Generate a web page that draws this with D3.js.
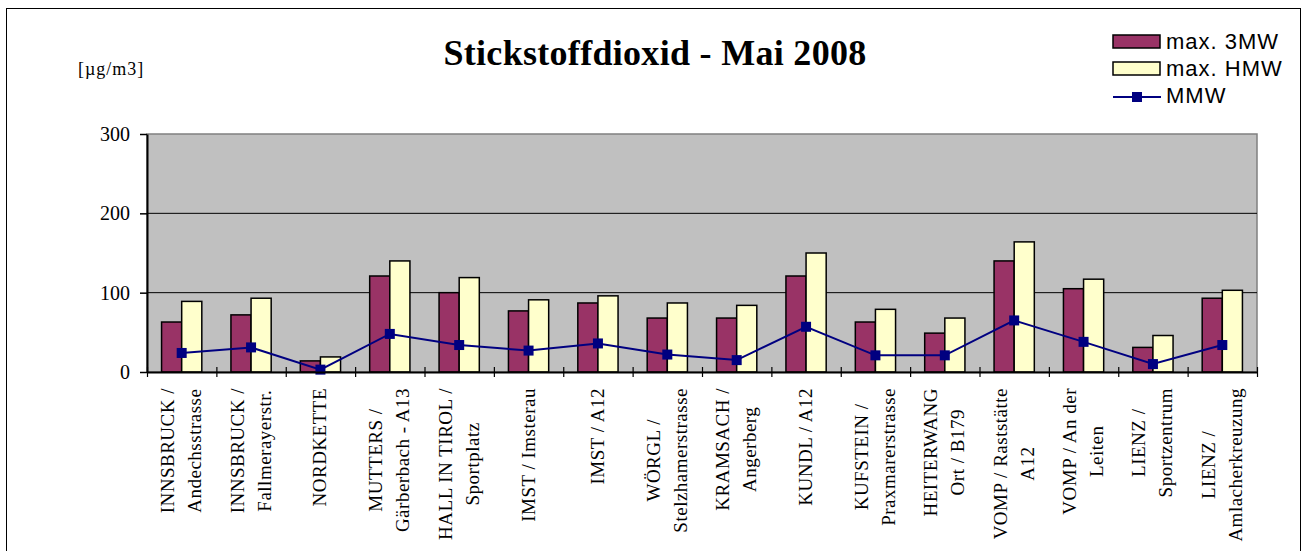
<!DOCTYPE html>
<html lang="de">
<head>
    <meta charset="UTF-8">
    <title>Stickstoffdioxid - Mai 2008</title>
    <script src="https://d3js.org/d3.v7.min.js"></script>
    <style>
        body { margin: 0; background: #fff; }
        svg { display: block; }
    </style>
</head>
<body>
    <div id="chart"></div>
    <script>
        // Stations (line breaks as in the original axis labels)
        const categories = [
            "INNSBRUCK /\nAndechsstrasse",
            "INNSBRUCK /\nFallmerayerstr.",
            "NORDKETTE",
            "MUTTERS /\nGärberbach - A13",
            "HALL IN TIROL /\nSportplatz",
            "IMST / Imsterau",
            "IMST / A12",
            "WÖRGL /\nStelzhamerstrasse",
            "KRAMSACH /\nAngerberg",
            "KUNDL / A12",
            "KUFSTEIN /\nPraxmarerstrasse",
            "HEITERWANG\nOrt / B179",
            "VOMP / Raststätte\nA12",
            "VOMP / An der\nLeiten",
            "LIENZ /\nSportzentrum",
            "LIENZ /\nAmlacherkreuzung"
        ];
        const max3MW = [63, 72, 14, 121, 100, 77, 87, 68, 68, 121, 63, 49, 140, 105, 31, 93];
        const maxHMW = [89, 93, 19, 140, 119, 91, 96, 87, 84, 150, 79, 68, 164, 117, 46, 103];
        const mmw = [24, 31, 3, 48, 34, 27, 36, 22, 15, 57, 21, 21, 65, 38, 10, 34];
        const yTicks = [0, 100, 200, 300];
        const seriesNames = ["max. 3MW", "max. HMW", "MMW"];

        const W = 1303, H = 551;
        const plot = {left: 147, right: 1257, top: 134, bottom: 372};
        const serif = "'Liberation Serif', 'Times New Roman', serif";
        const sans = "'Liberation Sans', Arial, sans-serif";

        const svg = d3.select("#chart").append("svg")
            .attr("width", W).attr("height", H);

        // outer chart frame
        svg.append("rect")
            .attr("x", 6.5).attr("y", 8.5)
            .attr("width", 1294).attr("height", 600)
            .attr("fill", "#fff").attr("stroke", "#000").attr("stroke-width", 1);

        const idx = d3.range(categories.length);
        const x0 = d3.scaleBand().domain(idx)
            .range([plot.left, plot.right])
            .paddingInner(0.42).paddingOuter(0.21);
        const x1 = d3.scaleBand().domain([0, 1]).range([0, x0.bandwidth()]);
        const xEdge = d3.scaleLinear().domain([0, categories.length]).range([plot.left, plot.right]);
        const y = d3.scaleLinear().domain([0, 300]).range([plot.bottom, plot.top]);

        // plot area
        svg.append("rect")
            .attr("x", plot.left).attr("y", plot.top)
            .attr("width", plot.right - plot.left).attr("height", plot.bottom - plot.top)
            .attr("fill", "#c0c0c0").attr("stroke", "#808080").attr("stroke-width", 1.5);

        // gridlines
        svg.append("g").selectAll("line")
            .data(yTicks.filter(d => d > 0 && d < 300))
            .join("line")
            .attr("x1", plot.left).attr("x2", plot.right)
            .attr("y1", d => y(d)).attr("y2", d => y(d))
            .attr("stroke", "#000").attr("stroke-width", 1);

        // bars
        const series = [max3MW, maxHMW];
        const barColors = ["#993366", "#ffffcc"];
        series.forEach((vals, s) => {
            svg.append("g").selectAll("rect")
                .data(vals)
                .join("rect")
                .attr("x", (d, i) => x0(i) + x1(s))
                .attr("y", d => y(d))
                .attr("width", x1.bandwidth())
                .attr("height", d => y(0) - y(d))
                .attr("fill", barColors[s])
                .attr("stroke", "#000").attr("stroke-width", 1.5);
        });

        // MMW line
        const cx = i => x0(i) + x0.bandwidth() / 2;
        svg.append("path")
            .datum(mmw)
            .attr("fill", "none").attr("stroke", "#000080").attr("stroke-width", 2)
            .attr("d", d3.line().x((d, i) => cx(i)).y(d => y(d)));
        svg.append("g").selectAll("rect")
            .data(mmw)
            .join("rect")
            .attr("x", (d, i) => cx(i) - 5).attr("y", d => y(d) - 5)
            .attr("width", 10).attr("height", 10)
            .attr("fill", "#000080");

        // y axis
        const yAxis = svg.append("g")
            .attr("transform", `translate(${plot.left},0)`)
            .call(d3.axisLeft(y).tickValues(yTicks).tickSize(7).tickPadding(10).tickSizeOuter(0));
        yAxis.select(".domain").attr("stroke", "#000").attr("stroke-width", 2);
        yAxis.selectAll("line").attr("stroke-width", 1.5);
        yAxis.selectAll("text")
            .attr("font-family", serif).attr("font-size", 20).attr("fill", "#000");

        // x axis with cross ticks at category boundaries
        const xAxis = svg.append("g")
            .attr("transform", `translate(0,${plot.bottom})`)
            .call(d3.axisBottom(xEdge).tickValues(d3.range(categories.length + 1))
                .tickFormat("").tickSizeOuter(0));
        xAxis.select(".domain").attr("stroke", "#000").attr("stroke-width", 2);
        xAxis.selectAll(".tick line").attr("y1", -5).attr("y2", 5).attr("stroke-width", 1.2);

        // category labels, rotated, lines centred against each other
        const labelTop = 388, lineGap = 27;
        categories.forEach((cat, i) => {
            const lines = cat.split("\n");
            const g = svg.append("g");
            const texts = lines.map((ln, k) => g.append("text")
                .attr("font-family", serif).attr("font-size", 19)
                .attr("letter-spacing", 0.5)
                .attr("text-anchor", "middle").attr("fill", "#000")
                .text(ln));
            const maxLen = d3.max(texts, t => t.node().getComputedTextLength());
            const base0 = cx(i) + 6 - (lines.length - 1) * lineGap / 2;
            texts.forEach((t, k) => {
                const bx = base0 + k * lineGap;
                const by = labelTop + maxLen / 2;
                t.attr("transform", `translate(${bx},${by}) rotate(-90)`);
            });
        });

        // title and unit
        svg.append("text")
            .attr("x", 655).attr("y", 65)
            .attr("text-anchor", "middle")
            .attr("font-family", serif).attr("font-weight", "bold").attr("font-size", 36)
            .attr("letter-spacing", 0.3)
            .text("Stickstoffdioxid - Mai 2008");
        svg.append("text")
            .attr("x", 78).attr("y", 75)
            .attr("font-family", serif).attr("font-size", 18)
            .attr("letter-spacing", 1)
            .text("[µg/m3]");

        // legend
        const legend = svg.append("g");
        [0, 1].forEach(s => {
            legend.append("rect")
                .attr("x", 1113).attr("y", 35 + s * 27)
                .attr("width", 47).attr("height", 13)
                .attr("fill", barColors[s]).attr("stroke", "#000").attr("stroke-width", 1.5);
        });
        legend.append("line")
            .attr("x1", 1113).attr("x2", 1161).attr("y1", 97).attr("y2", 97)
            .attr("stroke", "#000080").attr("stroke-width", 2);
        legend.append("rect")
            .attr("x", 1132).attr("y", 92).attr("width", 10).attr("height", 10)
            .attr("fill", "#000080");
        seriesNames.forEach((n, s) => {
            legend.append("text")
                .attr("x", 1166).attr("y", 49 + s * 27)
                .attr("font-family", sans).attr("font-size", 22)
                .attr("letter-spacing", 1)
                .text(n);
        });
    </script>
</body>
</html>
